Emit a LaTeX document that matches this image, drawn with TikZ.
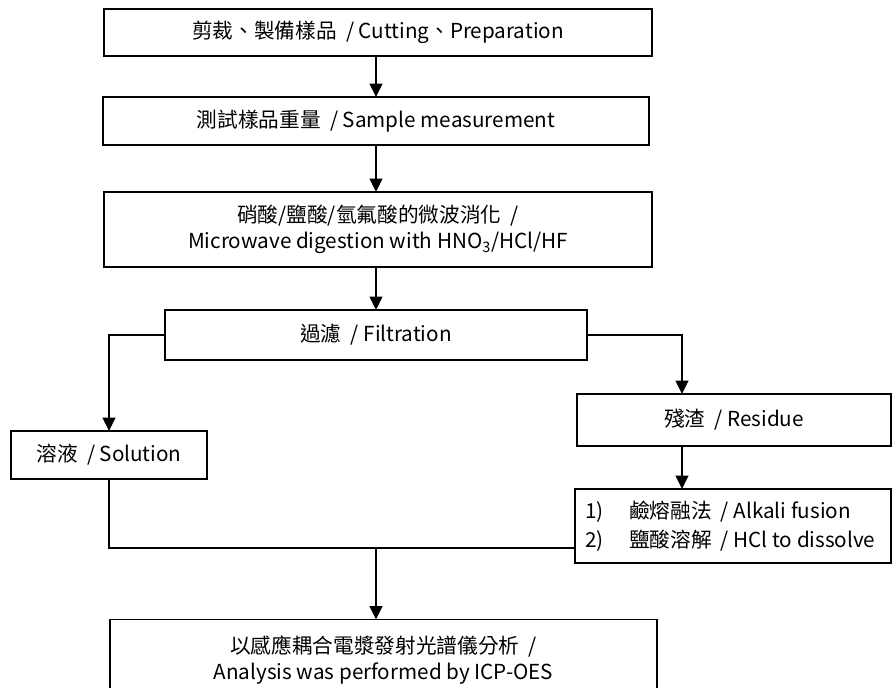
\documentclass[tikz,border=0pt]{standalone}
\usepackage{fontspec}
\setmainfont{Noto Sans CJK TC}
\usepackage{tikz}
\usetikzlibrary{arrows.meta}

\tikzset{
  stepbox/.style={draw, line width=1.1pt, inner sep=0pt, outer sep=0pt, align=center, font=\fontsize{15.5}{19.5}\selectfont},
  flow/.style={-{Triangle[length=10pt,width=9.5pt]}, line width=1.5pt},
  joinline/.style={line width=1.1pt},
}
\newcommand{\stepitem}[2]{\makebox[222pt][l]{\makebox[33pt][l]{#1}#2}}

\begin{document}
\begin{tikzpicture}[x=0.75pt,y=0.75pt,yscale=-1,xscale=1]
\path[use as bounding box] (0,0) rectangle (892,687);

% Process boxes
\draw (378,32.5) node [stepbox, minimum width=411pt, minimum height=35.25pt] (cut) {剪裁、製備樣品 \ / Cutting、Preparation};
\draw (376,121) node [stepbox, minimum width=409.5pt, minimum height=36pt] (weigh) {測試樣品重量 \ / Sample measurement};
\draw (378,229.5) node [stepbox, minimum width=411pt, minimum height=56.25pt] (digest) {硝酸/鹽酸/氫氟酸的微波消化 \ / \\ Microwave digestion with HNO\textsubscript{3}/HCl/HF};
\draw (376,335) node [stepbox, minimum width=316.5pt, minimum height=37.5pt] (filt) {過濾 \ / Filtration};
% Branches
\draw (109,455) node [stepbox, minimum width=147pt, minimum height=36pt] (sol) {溶液 \ / Solution};
\draw (734,420) node [stepbox, minimum width=235.5pt, minimum height=39pt] (res) {殘渣 \ / Residue};
\draw (733,526) node [stepbox, minimum width=237pt, minimum height=55.5pt, align=left] (alk) {\stepitem{1)}{鹼熔融法 \ / Alkali fusion}\\[2pt]\stepitem{2)}{鹽酸溶解 \ / HCl to dissolve}};
% Result
\draw (383.5,660) node [stepbox, minimum width=410pt, minimum height=60.75pt] (final) {以感應耦合電漿發射光譜儀分析 \ / \\ Analysis was performed by ICP-OES};

% Helper points
\coordinate (rdrop) at (682,335);
\coordinate (join) at (376,548);

% Arrows
\draw[flow] (cut.south -| weigh.north) -- (weigh.north);
\draw[flow] (weigh.south) -- (weigh.south |- digest.north);
\draw[flow] (digest.south -| filt.north) -- (filt.north);
\draw[flow] (filt.west) -| (sol.north);
\draw[flow] (filt.east) -- (rdrop) -- (rdrop |- res.north);
\draw[flow] (rdrop |- res.south) -- (rdrop |- alk.north);
\draw[joinline] (sol.south) |- (alk.west |- join);
\draw[flow] (join) -- (join |- final.north);

\end{tikzpicture}
\end{document}
